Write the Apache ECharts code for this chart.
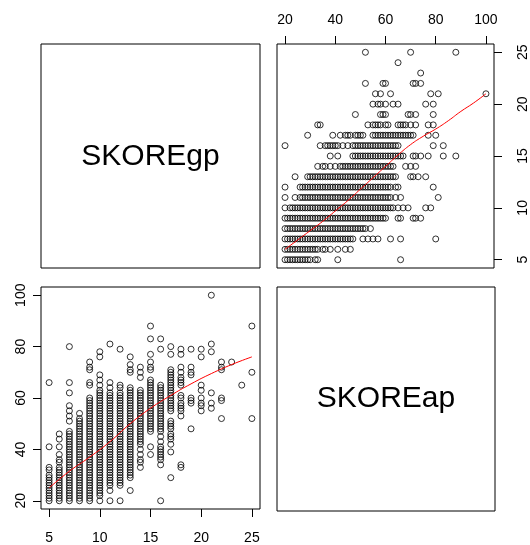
<!DOCTYPE html>
<html>
<head>
<meta charset="utf-8">
<script src="https://cdn.jsdelivr.net/npm/echarts@6/dist/echarts.min.js"></script>
<style>
html, body { margin: 0; padding: 0; background: #fff; }
#main { width: 530px; height: 545px; }
</style>
</head>
<body>
<div id="main"></div>
<script>
// SKOREap values, one list per SKOREgp score
var ap_gp5  = [20,21,22,23,24,25,26,27,28,29,30,32,33,41,66];
var ap_gp6  = [20,21,22,23,24,25,26,27,28,29,30,31,32,33,35,36,38,41,44,46];
var ap_gp7  = [20,21,22,23,24,25,26,27,28,29,30,31,32,33,34,35,36,37,38,39,40,41,42,43,44,45,46,47,51,53,55,57,62,66,80];
var ap_gp8  = [20,21,22,23,24,25,26,27,28,29,30,31,32,33,34,35,36,37,38,39,40,41,42,43,44,45,46,47,48,49,50,51,52,54];
var ap_gp9  = [20,21,22,23,24,25,26,27,28,29,30,31,32,33,34,35,36,37,38,39,40,41,42,43,44,45,46,47,48,49,50,51,52,53,54,55,56,57,58,59,60,65,66,71,72,74];
var ap_gp10 = [20,22,23,24,25,26,27,28,29,30,31,32,33,34,35,36,37,38,39,40,41,42,43,44,45,46,47,48,49,50,51,52,53,54,55,56,57,58,59,60,61,62,63,65,67,69,76,78];
var ap_gp11 = [20,24,26,27,28,29,30,31,32,33,34,35,36,37,38,39,40,41,42,43,44,45,46,47,48,49,50,51,52,53,54,55,56,57,58,59,60,61,62,64,66,81];
var ap_gp12 = [20,26,27,28,29,30,31,32,33,34,35,36,37,38,39,40,41,42,43,44,45,46,47,48,49,50,51,52,53,54,55,56,57,58,59,60,61,62,64,65,79];
var ap_gp13 = [24,29,30,31,32,33,34,35,36,37,38,39,40,41,42,43,44,45,46,47,48,49,50,51,52,53,54,55,56,57,58,59,60,61,62,63,64,70,71,73,76];
var ap_gp14 = [33,35,36,38,40,42,43,44,45,46,47,48,49,50,51,52,53,54,55,56,57,58,59,60,61,62,63,68,70,72];
var ap_gp15 = [38,41,47,48,49,50,51,52,53,54,55,56,57,58,59,60,61,62,63,64,65,66,67,71,72,74,77,83,88];
var ap_gp16 = [20,34,36,37,38,39,40,41,43,45,47,48,49,50,51,52,53,54,55,56,57,58,59,60,61,62,63,64,65,79,83];
var ap_gp17 = [29,39,42,44,45,46,48,49,50,51,55,56,57,58,59,60,61,62,63,64,65,66,67,68,69,70,71,77,80];
var ap_gp18 = [33,34,53,55,56,57,58,60,61,65,66,67,68,70,72,77,79];
var ap_gp19 = [48,58,59,60,69,70,72,79];
var ap_gp20 = [55,57,58,60,63,65,76,79];
var ap_gp21 = [56,58,62,78,81,100];
var ap_gp22 = [52,59,60,71,72,74];
var ap_gp23 = [74];
var ap_gp24 = [65];
var ap_gp25 = [52,70,88];

var gpScores = [5,6,7,8,9,10,11,12,13,14,15,16,17,18,19,20,21,22,23,24,25];
var apRows = [ap_gp5, ap_gp6, ap_gp7, ap_gp8, ap_gp9, ap_gp10, ap_gp11, ap_gp12, ap_gp13, ap_gp14,
              ap_gp15, ap_gp16, ap_gp17, ap_gp18, ap_gp19, ap_gp20, ap_gp21, ap_gp22, ap_gp23, ap_gp24, ap_gp25];

// red smoother lines
var smoothAp = [20, 25, 30, 35, 40, 45, 50, 55, 60, 65, 70, 75, 80, 85, 90, 95, 100];
var smoothGp = [6.0, 6.9, 7.8, 8.7, 9.7, 10.7, 11.8, 12.9, 14.0, 15.1, 16.1, 16.9, 17.6, 18.4, 19.3, 20.1, 21.0];
var smooth2Gp = [5, 7, 9, 11, 13, 15, 17, 19, 21, 23, 25];
var smooth2Ap = [25, 31.5, 37, 43, 50, 56, 61, 65.5, 69.5, 73, 76];

// tick labels
var apTicks = [20, 40, 60, 80, 100];
var gpTicks = [5, 10, 15, 20, 25];

(function () {
    var myChart = echarts.init(document.getElementById('main'));
    var font = 'Liberation Sans, Arial, sans-serif';

    // build point pairs
    var apVsGp = [];   // top right: x = ap, y = gp
    var gpVsAp = [];   // bottom left: x = gp, y = ap
    for (var i = 0; i < gpScores.length; i++) {
        for (var j = 0; j < apRows[i].length; j++) {
            apVsGp.push([apRows[i][j], gpScores[i]]);
            gpVsAp.push([gpScores[i], apRows[i][j]]);
        }
    }
    var line1 = [], line2 = [];
    for (var k = 0; k < smoothAp.length; k++) line1.push([smoothAp[k], smoothGp[k]]);
    for (var m = 0; m < smooth2Gp.length; m++) line2.push([smooth2Gp[m], smooth2Ap[m]]);

    var box = { show: true, borderColor: '#000', borderWidth: 1, backgroundColor: 'transparent' };
    function grid(l, t, w, h) {
        return Object.assign({ left: l, top: t, width: w, height: h }, box);
    }

    function shownAxis(idx, pos, min, max, ticks, margin, rotate) {
        return {
            type: 'value', gridIndex: idx, position: pos, min: min, max: max,
            axisLine: { show: false },
            splitLine: { show: false },
            axisTick: { show: true, inside: false, length: 8, customValues: ticks,
                        lineStyle: { color: '#000', width: 1 } },
            axisLabel: { show: true, customValues: ticks, margin: margin, rotate: rotate || 0,
                         color: '#000', fontSize: 14, fontFamily: font }
        };
    }
    function hiddenAxis(idx) {
        return { type: 'value', gridIndex: idx, show: false, min: 0, max: 1 };
    }

    var dot = { color: 'rgba(0,0,0,0)', borderColor: '#000', borderWidth: 1 };

    var option = {
        animation: false,
        backgroundColor: '#fff',
        grid: [
            grid(41, 44, 219, 224),
            grid(277, 44, 218, 224),
            grid(41, 287, 219, 224),
            grid(277, 287, 218, 224)
        ],
        xAxis: [
            hiddenAxis(0),
            shownAxis(1, 'top', 16.8, 103.2, apTicks, 17),
            shownAxis(2, 'bottom', 4.2, 25.8, gpTicks, 22),
            hiddenAxis(3)
        ],
        yAxis: [
            hiddenAxis(0),
            shownAxis(1, 'right', 4.2, 25.8, gpTicks, 22, 90),
            shownAxis(2, 'left', 16.8, 103.2, [20, 40, 60, 80, 100], 13, 90),
            hiddenAxis(3)
        ],
        graphic: [
            { type: 'text', x: 150.5, y: 157, style: { text: 'SKOREgp', fontSize: 30, fontFamily: font,
              fill: '#000', align: 'center', verticalAlign: 'middle' } },
            { type: 'text', x: 386, y: 399, style: { text: 'SKOREap', fontSize: 30, fontFamily: font,
              fill: '#000', align: 'center', verticalAlign: 'middle' } }
        ],
        series: [
            {
                type: 'scatter', xAxisIndex: 1, yAxisIndex: 1,
                symbol: 'circle', symbolSize: 6, itemStyle: dot, data: apVsGp
            },
            {
                type: 'line', xAxisIndex: 1, yAxisIndex: 1, showSymbol: false, smooth: true,
                lineStyle: { color: '#ff0000', width: 1 }, data: line1, z: 3
            },
            {
                type: 'scatter', xAxisIndex: 2, yAxisIndex: 2,
                symbol: 'circle', symbolSize: 6, itemStyle: dot, data: gpVsAp
            },
            {
                type: 'line', xAxisIndex: 2, yAxisIndex: 2, showSymbol: false, smooth: true,
                lineStyle: { color: '#ff0000', width: 1 }, data: line2, z: 3
            }
        ]
    };

    myChart.setOption(option);

    window.addEventListener('resize', function () {
        myChart.resize();
    });
})();
</script>
</body>
</html>
